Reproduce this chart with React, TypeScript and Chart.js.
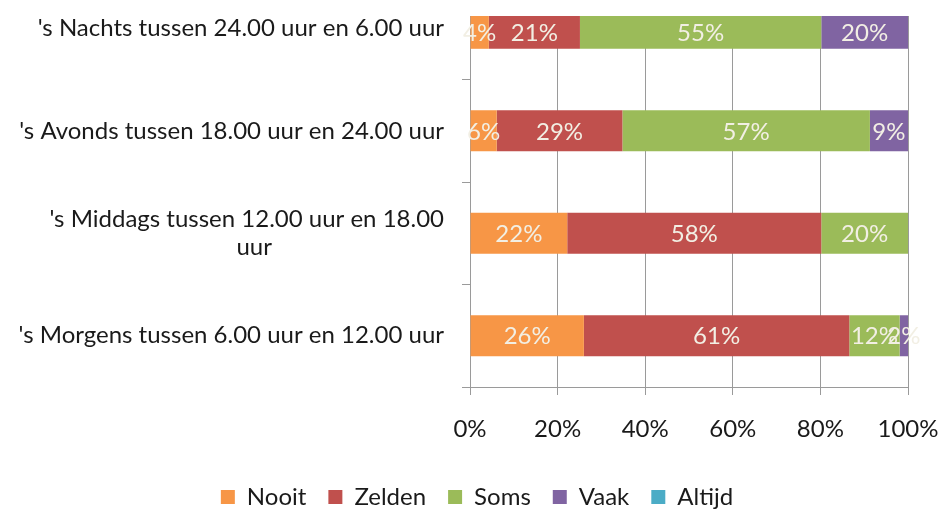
import React, { useEffect, useRef } from 'react';
import { Chart, registerables } from 'chart.js';

Chart.register(...registerables);

const FONT = 'Lato';
const GRID = '#9a9a9a';
const TEXT = '#1a1a1a';

// categories from bottom (index 0) to top (index 3)
const categories: (string | string[])[] = [
  "'s Morgens tussen 6.00 uur en 12.00 uur",
  ["'s Middags tussen 12.00 uur en 18.00", 'uur' + ' '.repeat(28)],
  "'s Avonds tussen 18.00 uur en 24.00 uur",
  "'s Nachts tussen 24.00 uur en 6.00 uur",
];
const categoryPositions = [0, 1, 2, 3];
const seriesNames = ['Nooit', 'Zelden', 'Soms', 'Vaak', 'Altijd'];
const seriesColors = ['#F79646', '#C0504D', '#9BBB59', '#8064A2', '#4BACC6'];
const nooit = [26.0, 22.2, 6.1, 4.3];
const zelden = [60.6, 58.0, 28.7, 20.8];
const soms = [11.5, 19.8, 56.5, 55.1];
const vaak = [1.9, 0, 8.7, 19.8];
const altijd = [0, 0, 0, 0];
const seriesValues = [nooit, zelden, soms, vaak, altijd];
const xTicks = [0, 20, 40, 60, 80, 100];
const yTicks = [-0.5, 0, 0.5, 1, 1.5, 2, 2.5, 3];

const barLabels = {
  id: 'barLabels',
  afterDatasetsDraw(chart: any) {
    const { ctx, chartArea } = chart;
    ctx.save();
    ctx.font = `24px ${FONT}`;
    ctx.fillStyle = '#f2efe4';
    ctx.textAlign = 'center';
    ctx.textBaseline = 'middle';
    chart.data.datasets.forEach((ds: any, i: number) => {
      const meta = chart.getDatasetMeta(i);
      meta.data.forEach((el: any, j: number) => {
        const v = ds.data[j].x;
        if (!v) return;
        const { x, y, base, height } = el.getProps(['x', 'y', 'base', 'height'], true);
        const top = Math.max(y - height / 2, chartArea.top);
        const bottom = Math.min(y + height / 2, chartArea.bottom);
        ctx.fillText(Math.round(v) + '%', (x + base) / 2, (top + bottom) / 2 + 1);
      });
    });
    ctx.restore();
  },
};

// nudges the legend row slightly to the right, as in the original layout
const legendShift = {
  id: 'legendShift',
  afterLayout(chart: any) {
    if (chart.legend) {
      chart.legend.left += 23;
      chart.legend.right += 23;
    }
  },
};

export default function App() {
  const ref = useRef<HTMLCanvasElement>(null);
  useEffect(() => {
    const chart = new Chart(ref.current as HTMLCanvasElement, {
      type: 'bar',
      data: {
        datasets: seriesNames.map((name, i) => ({
          label: name,
          data: categoryPositions.map((p, j) => ({ x: seriesValues[i][j], y: p })),
          backgroundColor: seriesColors[i],
          borderWidth: 0,
          categoryPercentage: 0.8,
          barPercentage: 1,
        })),
      },
      options: {
        indexAxis: 'y',
        animation: false,
        responsive: false,
        layout: { padding: { top: 16, right: 34, left: 0, bottom: 0 } },
        plugins: {
          tooltip: { enabled: false },
          legend: {
            position: 'bottom',
            maxHeight: 47,
            labels: {
              boxWidth: 14,
              boxHeight: 14,
              padding: 22,
              color: TEXT,
              font: { family: FONT, size: 24 },
            },
          },
        },
        scales: {
          x: {
            type: 'linear',
            stacked: true,
            min: 0,
            max: 100,
            bounds: 'data',
            offset: false,
            afterBuildTicks: (s: any) => {
              s.ticks = xTicks.map((v) => ({ value: v }));
            },
            afterFit: (s: any) => {
              s.height = 76;
              s.paddingLeft = 0;
              s.paddingRight = 0;
            },
            ticks: {
              callback: (v: any) => v + '%',
              color: TEXT,
              font: { family: FONT, size: 24 },
              padding: 20,
              maxRotation: 0,
            },
            grid: { color: GRID, tickLength: 8, offset: false },
            border: { color: GRID },
          },
          y: {
            type: 'linear',
            stacked: true,
            min: -0.5,
            max: 3.12,
            bounds: 'data',
            offset: false,
            afterBuildTicks: (s: any) => {
              s.ticks = yTicks.map((v) => ({ value: v }));
            },
            afterFit: (s: any) => {
              s.width = 470;
              s.paddingTop = 0;
              s.paddingBottom = 0;
            },
            ticks: {
              autoSkip: false,
              callback: (v: any) => (Number.isInteger(v) ? categories[v] : ''),
              color: TEXT,
              font: { family: FONT, size: 24, lineHeight: 1.15 },
              padding: 18,
            },
            grid: {
              offset: false,
              drawOnChartArea: false,
              tickLength: 8,
              color: (c: any) => (c.tick && Number.isInteger(c.tick.value) ? 'rgba(0,0,0,0)' : GRID),
            },
            border: { color: GRID },
          },
        },
      } as any,
      plugins: [barLabels, legendShift],
    });
    return () => chart.destroy();
  }, []);
  return (
    <canvas
      ref={ref}
      width={942}
      height={510}
      style={{ position: 'fixed', left: 0, top: 0, display: 'block' }}
    />
  );
}
